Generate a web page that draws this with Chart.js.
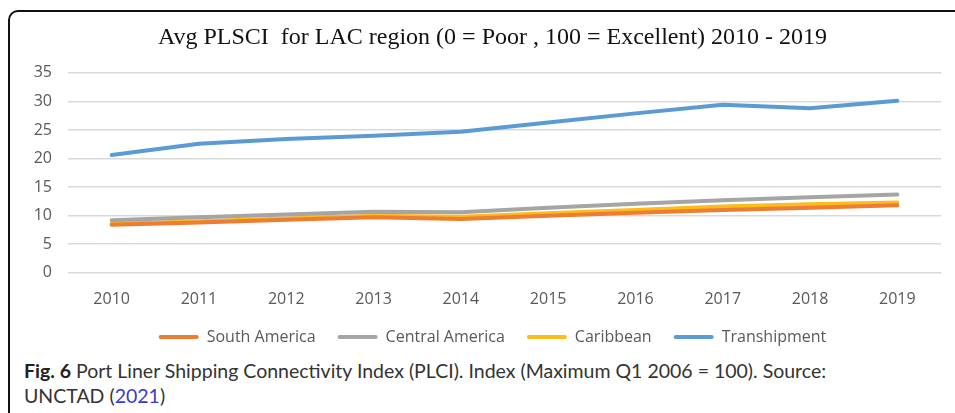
<!DOCTYPE html>
<html>
<head>
<meta charset="utf-8">
<script src="https://cdn.jsdelivr.net/npm/chart.js@4.4.1/dist/chart.umd.min.js"></script>
<style>
  html, body { margin: 0; padding: 0; background: #fff; overflow: hidden; }
  body { width: 955px; height: 413px; position: relative; }
  #frame {
    position: absolute; left: 8px; top: 10px;
    width: 1000px; height: 460px;
    border: 2px solid #111; border-radius: 10px;
  }
  #wrap { position: absolute; left: 10px; top: 12px; width: 945px; height: 346px; }
  #caption {
    position: absolute; left: 24px; top: 358px; width: 920px;
    font-family: Lato, "Open Sans", sans-serif; font-size: 19.5px;
    line-height: 25px; color: #333;
  }
  #caption b { color: #222; }
  #caption a { color: #3a3ad0; text-decoration: none; }
</style>
</head>
<body>
<div id="frame"></div>
<div id="wrap"><canvas id="grafico"></canvas></div>
<div id="caption"><b>Fig. 6</b> Port Liner Shipping Connectivity Index (PLCI). Index (Maximum Q1 2006 = 100). Source:<br>UNCTAD (<a>2021</a>)</div>
<script>
// dados
const anos = ['2010', '2011', '2012', '2013', '2014', '2015', '2016', '2017', '2018', '2019'];
const southAmerica   = [8.4, 8.8, 9.3, 9.7, 9.4, 10.0, 10.5, 11.0, 11.4, 11.8];
const centralAmerica = [9.2, 9.7, 10.2, 10.7, 10.6, 11.4, 12.1, 12.7, 13.2, 13.7];
const caribbean      = [8.6, 9.0, 9.5, 10.0, 9.8, 10.4, 11.0, 11.6, 12.0, 12.3];
const transhipment   = [20.6, 22.6, 23.4, 24.0, 24.7, 26.3, 27.9, 29.4, 28.8, 30.1];

const ctx = document.querySelector('#grafico').getContext('2d');
const fonte = { family: '"Open Sans", sans-serif', size: 16 };

function serie(label, data, cor) {
    return {
        label: label,
        data: data,
        borderColor: cor,
        backgroundColor: cor,
        borderWidth: 4,
        pointRadius: 0,
        borderCapStyle: 'round',
        borderJoinStyle: 'round',
        tension: 0
    };
}

// sem recorte dos rotulos (o eixo fica menor que o texto)
function semClip(scale) {
    scale._computeLabelArea = () => undefined;
}

new Chart(ctx, {
    type: 'line',
    data: {
        labels: anos,
        datasets: [
            serie('South America', southAmerica, '#ED7D31'),
            serie('Central America', centralAmerica, '#A5A5A5'),
            serie('Caribbean', caribbean, '#FBBC1C'),
            serie('Transhipment', transhipment, '#5B9BD5')
        ]
    },
    options: {
        responsive: true,
        maintainAspectRatio: false,
        animation: false,
        layout: { padding: { left: 34, right: 14, top: 0, bottom: 3 } },
        plugins: {
            title: {
                display: true,
                text: 'Avg PLSCI  for LAC region (0 = Poor , 100 = Excellent) 2010 - 2019',
                color: '#111',
                font: { family: '"Liberation Serif", "Times New Roman", serif', size: 24, weight: 'normal' },
                padding: { top: 11, bottom: 21 }
            },
            legend: {
                position: 'bottom',
                labels: {
                    boxWidth: 40,
                    boxHeight: 4,
                    padding: 22,
                    color: '#595959',
                    font: fonte,
                    useBorderRadius: true,
                    borderRadius: 2,
                    generateLabels: (chart) =>
                        Chart.defaults.plugins.legend.labels.generateLabels(chart)
                            .map(l => ({ ...l, lineWidth: 0 }))
                }
            },
            tooltip: { enabled: false }
        },
        scales: {
            x: {
                offset: true,
                grid: { display: false },
                border: { display: false },
                ticks: { color: '#595959', padding: 9, font: fonte },
                afterFit: (scale) => { scale.height -= 11; semClip(scale); }
            },
            y: {
                min: 0,
                max: 35,
                ticks: { stepSize: 5, color: '#595959', padding: 16, font: fonte },
                grid: { color: '#D9D9D9', lineWidth: 1.5, drawTicks: false },
                border: { display: false },
                afterFit: (scale) => { scale.width = 24; semClip(scale); }
            }
        }
    }
});
</script>
</body>
</html>
